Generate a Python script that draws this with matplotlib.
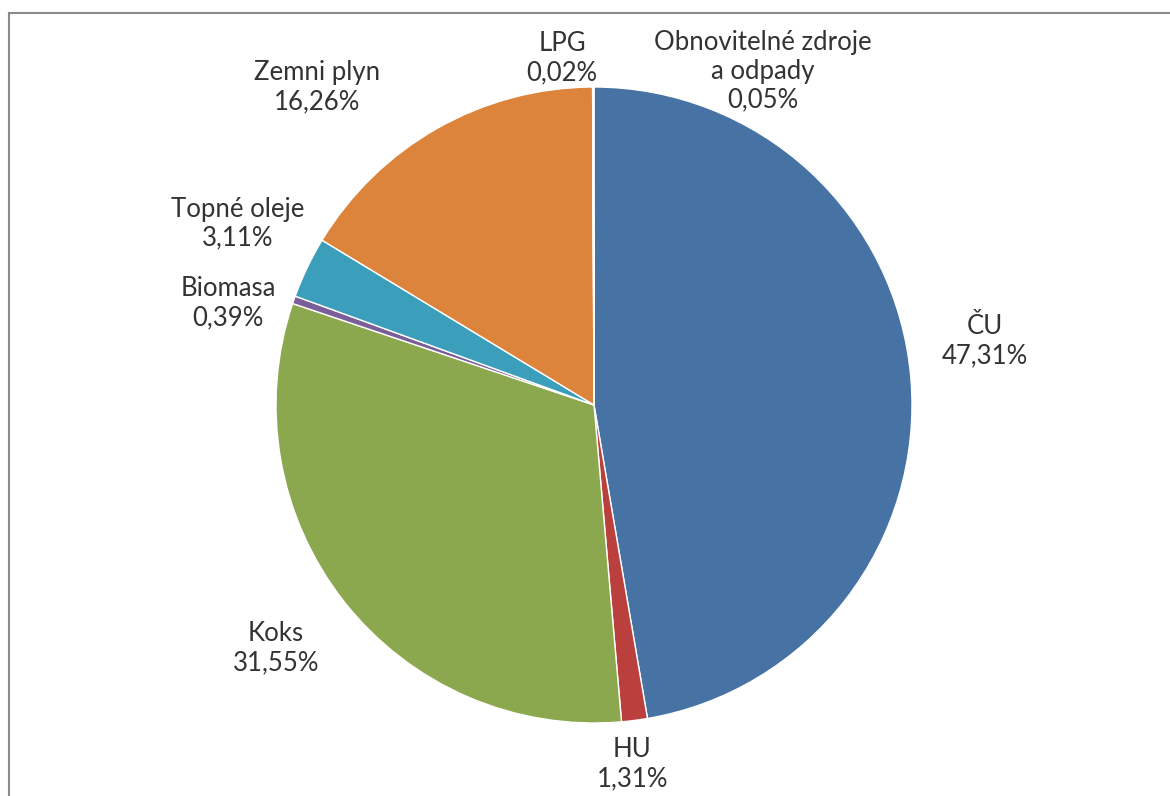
import matplotlib.pyplot as plt
from matplotlib.lines import Line2D

# fuel shares, clockwise from 12 o'clock
labels = ['ČU', 'HU', 'Koks', 'Biomasa', 'Topné oleje', 'Zemni plyn', 'LPG',
          'Obnovitelné zdroje\na odpady']
shares = [47.31, 1.31, 31.55, 0.39, 3.11, 16.26, 0.02, 0.05]
colors = ['#4672A4', '#B9403D', '#8CA84F', '#7A5E99', '#3B9FBB', '#DC843C',
          '#8F9DB4', '#A0B4CF']

# where each label sits, in pie-radius units
label_xy = [(1.23, 0.20), (0.12, -1.13), (-1.00, -0.765), (-1.15, 0.32),
            (-1.12, 0.57), (-0.87, 1.00), (-0.10, 1.09), (0.53, 1.05)]

W, H = 1170, 796
cx, cy, r = 594, 405, 318

fig = plt.figure(figsize=(W / 100, H / 100), dpi=100)
ax = fig.add_axes([0, 0, 1, 1])

ax.pie(shares, colors=colors, startangle=90, counterclock=False, radius=1,
       wedgeprops=dict(edgecolor='white', linewidth=1))

ax.set_aspect('auto')
ax.set_xlim(-cx / r, (W - cx) / r)
ax.set_ylim(-(H - cy) / r, cy / r)
ax.axis('off')

for lab, val, (x, y) in zip(labels, shares, label_xy):
    txt = lab + '\n' + f'{val:.2f}%'.replace('.', ',')
    ax.text(x, y, txt, ha='center', va='center', fontsize=18.5,
            family='Lato', color='#333333', linespacing=1.2)

# chart area frame (left and top edges)
fig.add_artist(Line2D([9 / W, 9 / W], [0, 1 - 13 / H], color='#8a8a8a', lw=1.5))
fig.add_artist(Line2D([9 / W, 1], [1 - 13 / H, 1 - 13 / H], color='#8a8a8a', lw=1.5))

fig.savefig('out.png', dpi=100)
